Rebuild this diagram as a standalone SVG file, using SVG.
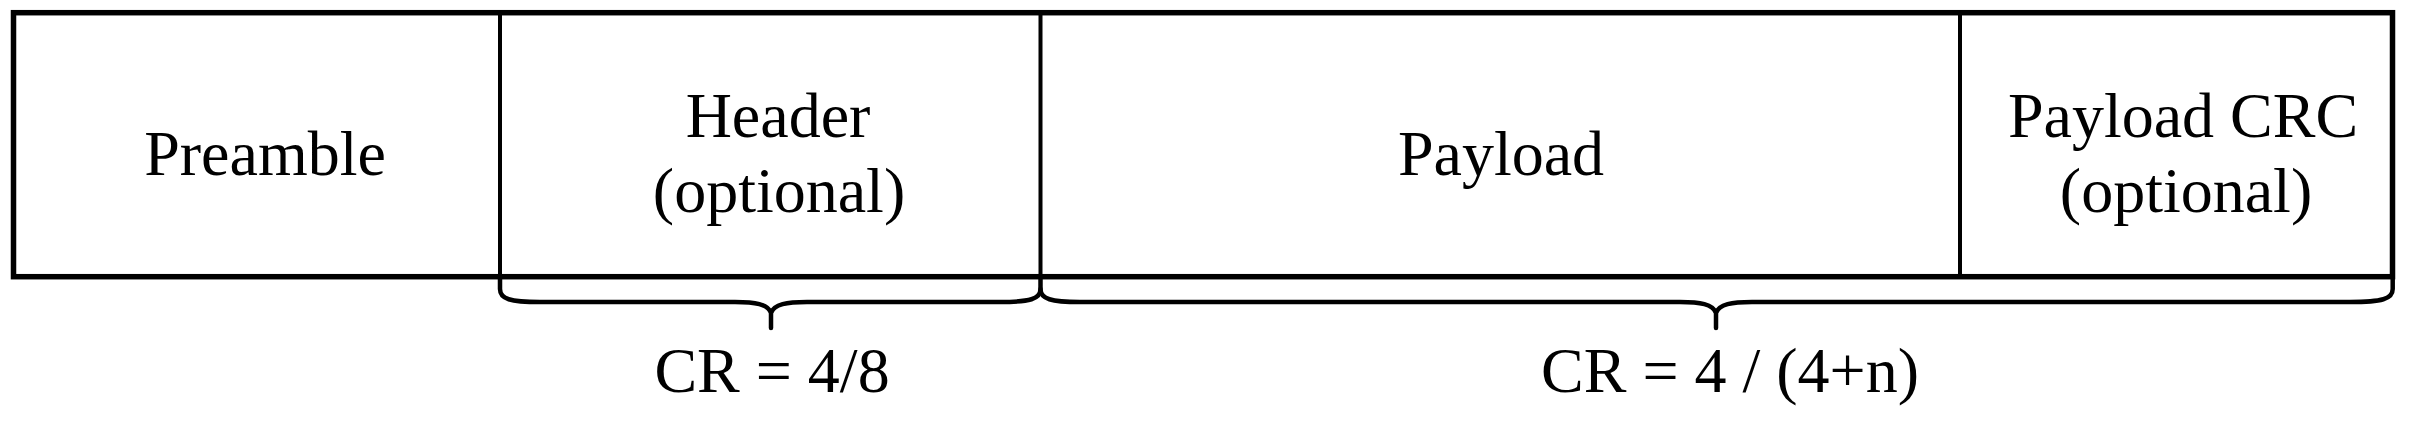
<svg xmlns="http://www.w3.org/2000/svg" width="2410" height="422" viewBox="0 0 2410 422">
<style>
.box{fill:none;stroke:#000;stroke-width:5.5}
.div{stroke:#000;stroke-width:4}
.brace{fill:none;stroke:#000;stroke-width:4.5;stroke-linecap:round;stroke-linejoin:round}
text{font-family:"Liberation Serif","Times New Roman",serif;font-size:64px;fill:#000;text-anchor:middle}
</style>
<rect width="2410" height="422" fill="#fff"/>
<g id="frame">
<rect class="box" x="13.5" y="12.7" width="2379" height="264"/>
</g>
<g id="preamble">
<text x="265" y="175">Preamble</text>
</g>
<g id="header">
<line class="div" x1="500" y1="12.7" x2="500" y2="276.7"/>
<text x="778" y="137">Header</text>
<text x="779" y="212">(optional)</text>
</g>
<g id="payload">
<line class="div" x1="1040.5" y1="12.7" x2="1040.5" y2="276.7"/>
<text x="1501" y="175">Payload</text>
</g>
<g id="payload-crc">
<line class="div" x1="1960" y1="12.7" x2="1960" y2="276.7"/>
<text x="2183" y="137">Payload CRC</text>
<text x="2186" y="212">(optional)</text>
</g>
<g id="connectors">
<path class="brace" d="M500,277 V289 C500,299 510,302 540,302 H735 C755,302 768,304 771,313 V328 M771,313 C774,304 787,302 807,302 H1000 C1030,302 1040.5,299 1040.5,289 V277"/>
<path class="brace" d="M1040.5,289 C1040.5,299 1051,302 1080,302 H1680 C1700,302 1713,304 1716,313 V328 M1716,313 C1719,304 1732,302 1752,302 H2350 C2382,302 2392.7,299 2392.7,289 V277"/>
</g>
<g id="labels">
<text x="772" y="392">CR = 4/8</text>
<text x="1730" y="392">CR = 4 / (4+n)</text>
</g>
</svg>
